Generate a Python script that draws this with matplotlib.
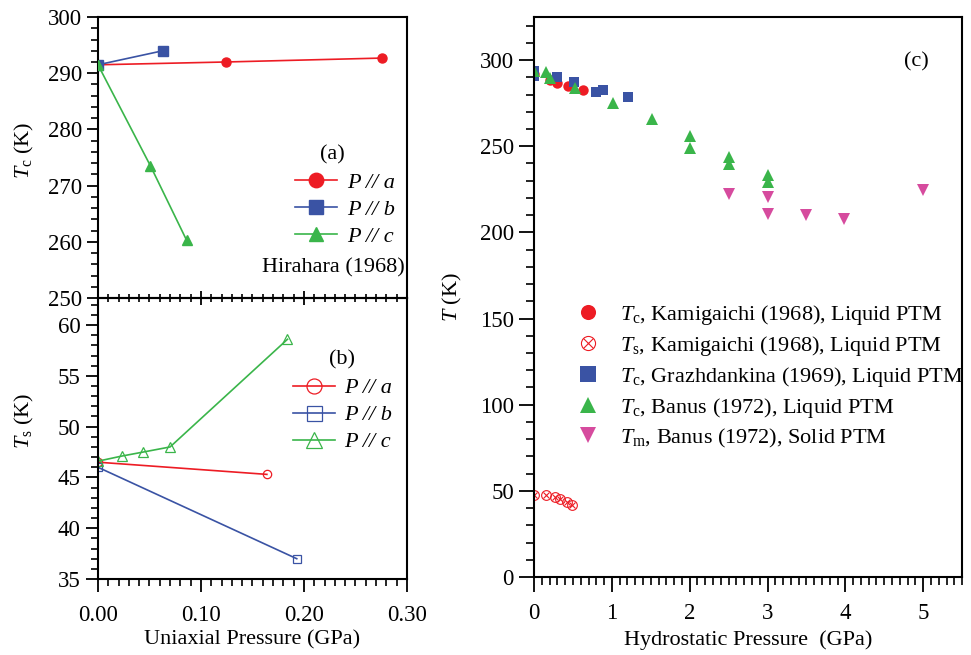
import matplotlib
matplotlib.use('Agg')
import matplotlib.pyplot as plt
from matplotlib.ticker import MultipleLocator, FormatStrFormatter

plt.rcParams['font.family'] = ['Liberation Serif', 'DejaVu Serif']
plt.rcParams['mathtext.fontset'] = 'custom'
plt.rcParams['mathtext.rm'] = 'Liberation Serif'
plt.rcParams['mathtext.it'] = 'Liberation Serif:italic'
plt.rcParams['font.size'] = 16
plt.rcParams['xtick.labelsize'] = 16.5
plt.rcParams['ytick.labelsize'] = 16.5
plt.rcParams['axes.linewidth'] = 1.5

RED = '#ED1C24'
BLUE = '#3A53A4'
GREEN = '#3AB54A'
MAGENTA = '#D64B9E'

# (a) Hirahara (1968), Tc under uniaxial pressure
tc_a_p = [0.0, 0.124, 0.276]
tc_a = [291.5, 292.0, 292.7]
tc_b_p = [0.0, 0.063]
tc_b = [291.5, 294.0]
tc_c_p = [0.0, 0.051, 0.086]
tc_c = [291.5, 273.5, 260.3]

# (b) Ts under uniaxial pressure
ts_a_p = [0.0, 0.164]
ts_a = [46.5, 45.3]
ts_b_p = [0.0, 0.193]
ts_b = [46.0, 37.0]
ts_c_p = [0.0, 0.023, 0.044, 0.070, 0.184]
ts_c = [46.6, 47.1, 47.5, 48.0, 58.6]

# (c) hydrostatic pressure
kam_tc_p = [0.0, 0.21, 0.30, 0.44, 0.63]
kam_tc = [292.0, 288.4, 286.8, 285.1, 282.6]
kam_ts_p = [0.0, 0.15, 0.27, 0.33, 0.42, 0.49]
kam_ts = [47.3, 47.8, 46.7, 45.4, 43.5, 42.0]
graz_p = [0.0, 0.0, 0.29, 0.51, 0.79, 0.89, 1.21]
graz_tc = [293.6, 290.8, 290.4, 287.3, 281.2, 282.7, 278.4]
banus_p = [0.0, 0.15, 0.21, 0.52, 1.02, 1.51, 2.0, 2.01, 2.51, 2.51, 3.01, 3.01]
banus_tc = [293.8, 292.8, 289.7, 283.6, 274.9, 265.5, 256.2, 248.7, 244.0, 239.5, 233.5, 229.2]
banus_tm_p = [2.5, 3.0, 3.0, 3.5, 3.98, 5.0]
banus_tm = [222.1, 220.7, 210.9, 209.9, 207.6, 224.6]


def style_ticks(ax, major=8, minor=5, xpad=9):
    ax.tick_params(which='major', direction='out', length=major, width=1.3, pad=3.5)
    ax.tick_params(which='minor', direction='out', length=minor, width=1.2)
    ax.tick_params(axis='x', which='major', pad=xpad)
    ax.tick_params(top=False, right=False, which='both')


fig = plt.figure(figsize=(9.71, 6.55), dpi=100)
ax_b = fig.add_axes([0.1009, 0.1160, 0.3182, 0.4290])
ax_a = fig.add_axes([0.1009, 0.5450, 0.3182, 0.4290])
ax_c = fig.add_axes([0.5500, 0.1191, 0.4408, 0.8550])

# ---- panel (a)
ax_a.patch.set_alpha(0)
ax_a.plot(tc_a_p, tc_a, '-o', color=RED, lw=1.2, ms=6.5, label='P // a')
ax_a.plot(tc_b_p, tc_b, '-s', color=BLUE, lw=1.2, ms=6.5, label='P // b')
ax_a.plot(tc_c_p, tc_c, '-^', color=GREEN, lw=1.2, ms=6.5, label='P // c', zorder=3)
ax_a.set_xlim(0, 0.30)
ax_a.set_ylim(250, 300)
ax_a.yaxis.set_major_locator(MultipleLocator(10))
ax_a.yaxis.set_minor_locator(MultipleLocator(2))
ax_a.xaxis.set_major_locator(MultipleLocator(0.1))
ax_a.xaxis.set_minor_locator(MultipleLocator(0.01))
style_ticks(ax_a)
# crossing ticks on the shared border
ax_a.tick_params(axis='x', which='major', direction='inout', length=9.5, labelbottom=False)
ax_a.tick_params(axis='x', which='minor', direction='inout', length=6)
ax_a.set_ylabel(r'$T_{\rm c}$ (K)')
ax_a.yaxis.set_label_coords(-0.2, 0.527)
ax_a.text(0.76, 0.509, '(a)', transform=ax_a.transAxes, ha='center', va='center')
ax_a.text(0.9935, 0.107, 'Hirahara (1968)', transform=ax_a.transAxes, ha='right', va='center')
ax_a.legend(loc='upper left', bbox_to_anchor=(0.638, 0.447), frameon=False,
            borderpad=0, borderaxespad=0, handlelength=1.9, handletextpad=0.42,
            labelspacing=0.29, markerscale=1.6, prop={'style': 'italic', 'size': 16})

# ---- panel (b)
ax_b.plot(ts_a_p, ts_a, '-o', color=RED, lw=1.2, ms=6, mfc='none', mew=0.9, label='P // a')
ax_b.plot(ts_b_p, ts_b, '-s', color=BLUE, lw=1.2, ms=6, mfc='none', mew=0.9, label='P // b')
ax_b.plot(ts_c_p, ts_c, '-^', color=GREEN, lw=1.2, ms=6.5, mfc='none', mew=0.9, label='P // c')
ax_b.set_xlim(0, 0.30)
ax_b.set_ylim(35, 62.66)
ax_b.yaxis.set_major_locator(MultipleLocator(5))
ax_b.yaxis.set_minor_locator(MultipleLocator(1))
ax_b.xaxis.set_major_locator(MultipleLocator(0.1))
ax_b.xaxis.set_minor_locator(MultipleLocator(0.01))
ax_b.xaxis.set_major_formatter(FormatStrFormatter('%.2f'))
style_ticks(ax_b, major=9, xpad=9.5)
ax_b.set_ylabel(r'$T_{\rm s}$ (K)')
ax_b.yaxis.set_label_coords(-0.2, 0.562)
ax_b.set_xlabel('Uniaxial Pressure (GPa)', labelpad=3)
ax_b.text(0.789, 0.779, '(b)', transform=ax_b.transAxes, ha='center', va='center')
ax_b.legend(loc='upper left', bbox_to_anchor=(0.63, 0.716), frameon=False,
            borderpad=0, borderaxespad=0, handlelength=1.9, handletextpad=0.42,
            labelspacing=0.29, markerscale=1.8, prop={'style': 'italic', 'size': 16})

# ---- panel (c)
h1, = ax_c.plot(kam_tc_p, kam_tc, 'o', color=RED, ms=7.5, mew=0)
h2a, = ax_c.plot(kam_ts_p, kam_ts, 'o', color=RED, ms=7, mfc='none', mew=0.8)
h2b, = ax_c.plot(kam_ts_p, kam_ts, 'x', color=RED, ms=4.5, mew=0.8)
h3, = ax_c.plot(graz_p, graz_tc, 's', color=BLUE, ms=7.5, mew=0)
h4, = ax_c.plot(banus_p, banus_tc, '^', color=GREEN, ms=8, mew=0)
h5, = ax_c.plot(banus_tm_p, banus_tm, 'v', color=MAGENTA, ms=8, mew=0)
ax_c.set_xlim(0, 5.5)
ax_c.set_ylim(0, 325)
ax_c.yaxis.set_major_locator(MultipleLocator(50))
ax_c.yaxis.set_minor_locator(MultipleLocator(10))
ax_c.xaxis.set_major_locator(MultipleLocator(1))
ax_c.xaxis.set_minor_locator(MultipleLocator(0.1))
style_ticks(ax_c, major=11, minor=5.5, xpad=8)
ax_c.set_ylabel(r'$T$ (K)')
ax_c.yaxis.set_label_coords(-0.164, 0.5)
ax_c.set_xlabel('Hydrostatic Pressure  (GPa)', labelpad=4)
ax_c.text(0.8925, 0.92, '(c)', transform=ax_c.transAxes, ha='center', va='center')

labels = [r'$T_{\rm c}$, Kamigaichi (1968), Liquid PTM',
          r'$T_{\rm s}$, Kamigaichi (1968), Liquid PTM',
          r'$T_{\rm c}$, Grazhdankina (1969), Liquid PTM',
          r'$T_{\rm c}$, Banus (1972), Liquid PTM',
          r'$T_{\rm m}$, Banus (1972), Solid PTM']
ax_c.legend([h1, (h2a, h2b), h3, h4, h5], labels, loc='upper left',
            bbox_to_anchor=(0.103, 0.489), frameon=False, borderpad=0,
            borderaxespad=0, handlelength=0.9, handletextpad=1.0,
            labelspacing=0.31, markerscale=1.45, fontsize=16)

plt.savefig('out.png', dpi=100)
